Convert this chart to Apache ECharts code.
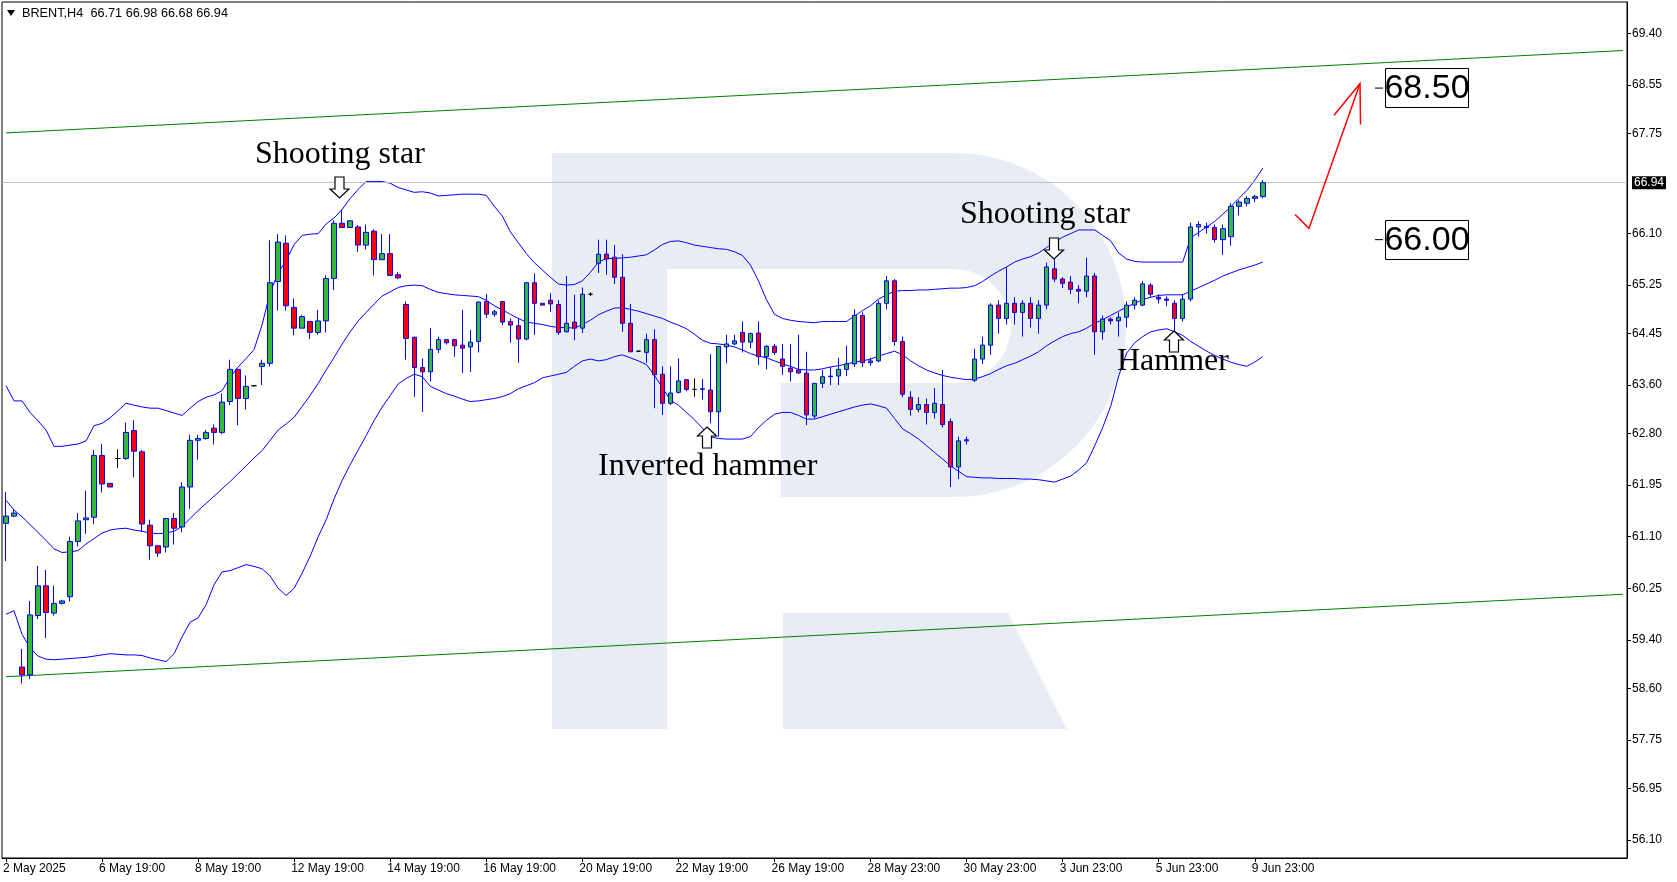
<!DOCTYPE html>
<html>
<head>
<meta charset="utf-8">
<script src="https://cdn.jsdelivr.net/npm/echarts@6/dist/echarts.min.js"></script>
<style>html,body{margin:0;padding:0;background:#fff;}#c{width:1677px;height:882px;}</style>
</head>
<body>
<div id="c"></div>
<script>
// ---------------- data ----------------
const symbolName = 'BRENT';
const timeframe = 'H4';
const xTickLabels = ['2 May 2025','6 May 19:00','8 May 19:00','12 May 19:00','14 May 19:00','16 May 19:00','20 May 19:00','22 May 19:00','26 May 19:00','28 May 23:00','30 May 23:00','3 Jun 23:00','5 Jun 23:00','9 Jun 23:00'];
const barsPerTickLabel = 12;
const emptySlotsRight = 45;

const opens = [61.32,61.44,58.95,58.82,59.80,60.29,59.84,60.00,60.11,61.02,61.38,61.42,62.44,61.98,62.39,62.39,62.85,62.50,61.29,60.95,
60.93,61.40,61.26,61.92,62.69,62.72,62.89,62.82,63.33,63.86,63.38,63.59,63.91,63.96,65.31,65.94,64.88,64.54,64.65,64.47,
64.66,65.36,66.27,66.20,66.21,65.91,66.14,65.67,65.77,65.42,64.93,64.39,63.89,63.82,64.19,64.35,64.35,64.26,64.23,64.32,
64.98,64.77,64.98,64.65,64.58,64.36,65.29,64.95,65.00,64.93,64.48,64.64,64.54,65.10,65.61,65.76,65.71,65.38,64.62,64.16,
64.14,64.35,63.78,63.30,63.48,63.69,63.53,63.53,63.52,63.16,64.23,64.28,64.47,64.31,64.46,64.07,64.24,64.03,63.88,63.85,
63.80,63.09,63.63,63.74,63.75,63.86,63.95,64.75,63.97,64.00,64.95,65.32,64.32,63.40,63.20,63.28,63.15,63.28,63.00,62.25,
62.68,63.68,64.03,64.26,64.92,64.70,64.95,64.80,64.95,64.70,64.92,65.52,65.35,65.30,65.18,65.15,65.40,64.48,64.69,64.66,
64.72,64.92,64.92,65.25,65.05,65.02,64.95,64.70,65.02,66.21,66.20,66.20,66.00,66.05,66.55,66.60,66.68,66.71];
const closes = [61.44,61.49,58.82,59.81,60.29,59.85,60.00,60.04,61.02,61.36,61.41,62.44,61.97,61.92,62.39,62.82,62.51,61.31,60.95,60.83,
61.40,61.24,61.92,62.69,62.72,62.82,62.82,63.32,63.86,63.38,63.58,63.59,63.96,65.29,65.96,64.91,64.54,64.73,64.47,64.66,
65.36,66.27,66.20,66.31,65.91,66.12,65.67,65.77,65.41,65.37,64.37,63.89,63.82,64.19,64.35,64.30,64.25,64.21,64.31,64.97,
64.77,64.81,64.64,64.59,64.36,65.29,64.95,64.92,64.94,64.47,64.62,64.54,65.10,65.10,65.76,65.68,65.38,64.62,64.15,64.16,
64.35,63.77,63.30,63.47,63.67,63.53,63.53,63.54,63.16,64.24,64.28,64.33,64.31,64.45,64.07,64.24,64.14,63.91,63.82,63.80,
63.11,63.63,63.74,63.75,63.86,63.95,64.75,63.97,64.00,64.95,65.32,64.32,63.45,63.20,63.28,63.15,63.30,62.95,62.25,62.68,
62.70,64.03,64.26,64.92,64.70,64.95,64.80,64.95,64.70,64.92,65.55,65.35,65.28,65.18,65.15,65.40,64.48,64.69,64.66,64.72,
64.92,65.00,65.27,65.10,65.02,65.00,64.70,65.02,66.21,66.25,66.22,66.00,66.18,66.55,66.62,66.68,66.71,66.94];
const lows = [60.70,61.42,58.68,58.75,59.74,59.43,59.80,59.98,60.03,60.94,61.15,61.31,61.83,61.92,62.23,62.37,62.08,61.19,60.72,60.77,
60.84,60.97,61.17,61.56,62.37,62.70,62.62,62.79,63.27,62.94,63.20,63.58,63.60,63.91,64.83,64.83,64.42,64.54,64.36,64.43,
64.47,65.17,66.19,66.20,65.80,65.84,65.41,65.66,65.41,65.35,64.02,63.41,63.16,63.66,64.13,64.27,64.07,63.80,63.82,64.14,
64.71,64.73,64.59,64.30,63.97,64.34,64.43,64.92,64.81,64.43,64.47,64.34,64.46,65.07,65.45,65.42,65.27,64.48,64.15,64.15,
63.97,63.22,63.11,63.27,63.46,63.50,63.41,63.36,62.97,62.75,63.96,64.26,64.14,64.21,63.93,63.86,64.10,63.77,63.66,63.79,
62.94,63.05,63.55,63.60,63.60,63.75,63.90,63.90,63.92,63.98,64.85,64.25,63.40,63.10,63.15,62.95,63.05,62.90,61.92,62.05,
62.62,63.65,63.95,64.10,64.45,64.60,64.60,64.40,64.55,64.45,64.85,65.30,65.20,65.10,64.95,65.05,64.10,64.35,64.60,64.40,
64.55,64.85,64.90,65.05,64.95,64.90,64.48,64.65,64.98,66.05,66.10,65.95,65.75,65.90,66.40,66.55,66.62,66.68];
const highs = [61.84,61.54,59.25,60.04,60.62,60.55,60.29,60.06,61.10,61.49,61.86,62.53,62.63,61.98,62.54,62.98,63.02,62.53,61.38,60.95,
61.41,61.49,62.00,62.78,62.78,62.86,62.95,63.46,64.02,63.87,63.76,63.60,64.02,65.99,66.09,66.07,65.03,64.76,64.65,64.84,
65.41,66.32,66.50,66.32,66.24,66.25,66.17,66.09,66.09,65.46,64.98,64.40,64.04,64.54,64.40,64.35,64.36,64.84,64.51,64.98,
65.10,64.84,64.99,64.70,64.71,65.29,65.44,64.95,65.12,65.00,65.40,65.09,65.21,65.13,66.00,66.00,65.91,65.76,64.94,64.17,
64.45,64.52,63.91,63.91,64.04,63.69,63.71,63.70,64.11,64.24,64.43,64.43,64.65,64.47,64.65,64.26,64.28,64.28,64.28,64.43,
64.15,63.63,63.85,63.90,64.05,64.25,64.85,64.80,64.05,65.00,65.40,65.35,64.40,63.50,63.40,63.38,63.55,63.85,63.05,62.75,
62.75,64.20,64.40,64.95,65.00,65.55,65.05,65.00,65.05,65.00,65.62,65.90,65.38,65.40,65.25,65.70,65.45,64.75,64.72,64.80,
64.98,65.05,65.32,65.28,65.10,65.06,65.00,65.10,66.28,66.30,66.28,66.25,66.25,66.60,66.65,66.72,66.74,66.98];

const bbUpper = [63.59,63.34,63.34,63.15,63.01,62.86,62.59,62.59,62.61,62.63,62.68,62.93,62.97,63.06,63.18,63.30,63.27,63.24,63.22,63.22,
63.18,63.14,63.10,63.22,63.33,63.40,63.44,63.51,63.73,63.90,64.04,64.19,64.60,65.13,65.45,65.66,65.92,66.07,66.09,66.10,
66.26,66.36,66.50,66.68,66.83,66.96,66.96,66.96,66.93,66.86,66.82,66.78,66.79,66.77,66.72,66.73,66.74,66.75,66.75,66.75,
66.73,66.55,66.39,66.13,65.95,65.77,65.62,65.50,65.38,65.27,65.25,65.26,65.32,65.46,65.63,65.69,65.69,65.70,65.71,65.73,
65.75,65.83,65.92,65.97,65.98,65.95,65.91,65.89,65.87,65.85,65.84,65.80,65.74,65.58,65.32,65.01,64.77,64.70,64.67,64.65,
64.64,64.63,64.65,64.65,64.65,64.65,64.74,64.83,64.91,65.02,65.09,65.15,65.16,65.16,65.17,65.17,65.18,65.19,65.20,65.20,
65.21,65.24,65.31,65.40,65.48,65.55,65.63,65.68,65.72,65.78,65.87,65.96,66.04,66.10,66.16,66.16,66.16,66.07,65.98,65.78,
65.68,65.64,65.63,65.63,65.63,65.63,65.63,65.63,66.03,66.12,66.21,66.30,66.42,66.54,66.68,66.81,66.98,67.18];
const bbMiddle = [61.70,61.54,61.43,61.30,61.17,61.04,60.90,60.84,60.85,60.87,60.98,61.07,61.16,61.21,61.23,61.24,61.21,61.19,61.16,61.15,
61.16,61.19,61.27,61.40,61.53,61.65,61.77,61.89,62.01,62.14,62.27,62.40,62.52,62.69,62.86,62.96,63.07,63.25,63.43,63.63,
63.85,64.06,64.28,64.48,64.66,64.80,64.94,65.07,65.14,65.21,65.24,65.25,65.24,65.18,65.13,65.11,65.09,65.08,65.07,65.06,
65.00,64.91,64.84,64.77,64.70,64.64,64.62,64.60,64.57,64.55,64.55,64.54,64.60,64.67,64.76,64.82,64.87,64.88,64.85,64.82,
64.78,64.74,64.70,64.64,64.59,64.53,64.44,64.34,64.29,64.28,64.26,64.23,64.18,64.12,64.08,64.05,64.00,63.95,63.91,63.86,
63.85,63.85,63.87,63.90,63.92,63.95,63.98,64.00,64.03,64.08,64.12,64.16,64.10,64.00,63.92,63.85,63.80,63.76,63.73,63.71,
63.69,63.70,63.74,63.79,63.86,63.92,63.96,64.02,64.08,64.15,64.25,64.33,64.40,64.45,64.48,64.54,64.62,64.68,64.75,64.82,
64.89,64.95,65.01,65.05,65.08,65.09,65.09,65.09,65.15,65.21,65.27,65.33,65.40,65.45,65.50,65.54,65.58,65.63];
const bbLower = [59.82,59.88,59.49,59.27,59.13,59.08,59.07,59.08,59.09,59.10,59.11,59.13,59.15,59.17,59.16,59.15,59.15,59.14,59.10,59.07,
59.04,59.17,59.45,59.69,59.76,59.98,60.31,60.52,60.54,60.59,60.64,60.61,60.57,60.45,60.25,60.13,60.25,60.50,60.78,61.10,
61.38,61.73,62.03,62.29,62.53,62.77,63.02,63.24,63.43,63.62,63.71,63.78,63.74,63.58,63.52,63.46,63.42,63.37,63.33,63.34,
63.36,63.38,63.41,63.46,63.54,63.59,63.64,63.72,63.75,63.78,63.81,63.91,64.00,64.03,64.00,64.02,64.07,64.10,64.05,64.00,
63.94,63.76,63.56,63.35,63.27,63.15,63.03,62.89,62.75,62.72,62.71,62.71,62.71,62.75,62.90,63.02,63.12,63.15,63.15,63.10,
63.04,63.04,63.08,63.12,63.16,63.20,63.24,63.27,63.29,63.26,63.22,63.05,62.88,62.80,62.71,62.60,62.49,62.38,62.27,62.18,
62.09,62.08,62.07,62.07,62.06,62.06,62.06,62.05,62.05,62.04,62.02,62.00,62.05,62.10,62.20,62.32,62.60,62.90,63.25,63.75,
64.13,64.30,64.40,64.48,64.51,64.53,64.48,64.42,64.32,64.24,64.16,64.09,64.03,63.98,63.94,63.91,63.98,64.07];

const channelUpper = [67.76, 69.12];   // trend line value at first / last slot
const channelLower = [58.79, 60.15];
const yTicks = [56.10,56.95,57.75,58.60,59.40,60.25,61.10,61.95,62.80,63.60,64.45,65.25,66.10,67.75,68.55,69.40];
const targetLevels = [68.50, 66.00];

// ---------------- chart ----------------
const SANS = '"Liberation Sans", Arial, sans-serif';
const SERIF = '"Liberation Serif", "Times New Roman", serif';
const n = opens.length;
const total = n + emptySlotsRight;
const cats = Array.from({length: total}, (_, i) => String(i));
const candleData = opens.map((o, i) => [o, closes[i], lows[i], highs[i]]);
const lastPrice = closes[n - 1];
const isLabelIdx = i => i % barsPerTickLabel === 0 && i / barsPerTickLabel < xTickLabels.length;

const chart = echarts.init(document.getElementById('c'), null, {renderer: 'canvas', width: 1677, height: 882});

function bandSeries(name, data) {
  return {name, type: 'line', data, symbol: 'none', silent: true, z: 4,
    lineStyle: {color: '#0000ff', width: 1}, animation: false};
}
function trendSeries(name, ends) {
  return {name, type: 'line', data: [[cats[0], ends[0]], [cats[total - 1], ends[1]]], symbol: 'none', silent: true, z: 3,
    lineStyle: {color: '#008000', width: 1}, animation: false};
}

chart.setOption({
  animation: false,
  backgroundColor: '#ffffff',
  grid: {left: 2, top: 2, right: 50, bottom: 24, show: true, borderColor: '#000', borderWidth: 1,
    backgroundColor: 'transparent', containLabel: false, outerBoundsMode: 'none'},
  xAxis: {
    type: 'category', data: cats, boundaryGap: true,
    axisLine: {show: true, lineStyle: {color: '#000', width: 1}},
    axisTick: {show: true, alignWithLabel: true, interval: (i) => isLabelIdx(i), length: 4, lineStyle: {color: '#000'}},
    axisLabel: {show: true, interval: (i) => isLabelIdx(i), align: 'left', color: '#000', fontSize: 12, fontFamily: SANS, margin: 5,
      padding: [0, 0, 0, -3],
      formatter: (v, i) => isLabelIdx(i) ? xTickLabels[i / barsPerTickLabel] : ''},
    splitLine: {show: false}
  },
  yAxis: {
    type: 'value', position: 'right', min: 55.80, max: 69.92, scale: true,
    axisLine: {show: true, lineStyle: {color: '#000', width: 1}},
    axisTick: {show: true, customValues: yTicks, length: 4, lineStyle: {color: '#000'}},
    axisLabel: {show: true, customValues: yTicks.concat([lastPrice]), color: '#000', fontSize: 12, fontFamily: SANS, margin: 5,
      formatter: v => Math.abs(v - lastPrice) < 1e-9 ? '{cur|' + v.toFixed(2) + '}' : v.toFixed(2),
      rich: {cur: {backgroundColor: '#000', color: '#fff', padding: [1, 2, 0, 2], fontSize: 12, fontFamily: SANS}}},
    splitLine: {show: false}
  },
  series: [
    trendSeries('channelUpper', channelUpper),
    trendSeries('channelLower', channelLower),
    bandSeries('bbUpper', bbUpper),
    bandSeries('bbMiddle', bbMiddle),
    bandSeries('bbLower', bbLower),
    {
      name: symbolName, type: 'candlestick', data: candleData, barWidth: 5, z: 5,
      itemStyle: {color: '#36B936', color0: '#FF0000', borderColor: '#0000FF', borderColor0: '#0000FF', borderColorDoji: '#000000', borderWidth: 1},
      markLine: {silent: true, symbol: ['none', 'none'], animation: false, label: {show: false},
        lineStyle: {color: '#C0C0C0', width: 1, type: 'solid'}, data: [{yAxis: lastPrice}]}
    }
  ]
});

// ---------------- decorations / annotations ----------------
function arcPts(cx, cy, r, a0, a1, steps) {
  const pts = [];
  for (let k = 0; k <= steps; k++) {
    const a = (a0 + (a1 - a0) * k / steps) * Math.PI / 180;
    pts.push([cx + r * Math.cos(a), cy + r * Math.sin(a)]);
  }
  return pts;
}
const bowl = [[667,153]].concat(arcPts(954,325,172,-90,90,40)).concat([[781,497],[781,383]])
  .concat(arcPts(954,326,57,90,-90,20)).concat([[667,269]]);
const WM = '#E8ECF4';
function downArrow(cx, yTop, yTip) {
  return [[cx-4.5,yTop],[cx+4.5,yTop],[cx+4.5,yTip-9],[cx+9.5,yTip-9],[cx,yTip],[cx-9.5,yTip-9],[cx-4.5,yTip-9]];
}
function upArrow(cx, yTip, yBot) {
  return [[cx,yTip],[cx+9.5,yTip+9],[cx+4.5,yTip+9],[cx+4.5,yBot],[cx-4.5,yBot],[cx-4.5,yTip+9],[cx-9.5,yTip+9]];
}
const arrowStyle = {fill: '#fff', stroke: '#000', lineWidth: 1.2};
function note(text, x, y) {
  return {type: 'text', x, y, z: 100, silent: true, style: {text, font: '32px ' + SERIF, fill: '#000', verticalAlign: 'middle'}};
}
const g = [
  {type: 'rect', z: 0, silent: true, shape: {x: 552, y: 153, width: 115, height: 576}, style: {fill: WM}},
  {type: 'polygon', z: 0, silent: true, shape: {points: bowl}, style: {fill: WM}},
  {type: 'polygon', z: 0, silent: true, shape: {points: [[783,613],[1008,613],[1067,729],[783,729]]}, style: {fill: WM}},
  // title
  {type: 'polygon', z: 100, silent: true, shape: {points: [[7,10],[15,10],[11,16]]}, style: {fill: '#000'}},
  {type: 'text', x: 22, y: 13, z: 100, silent: true, style: {
    text: symbolName + ',' + timeframe + '  ' + [opens[n-1], highs[n-1], lows[n-1], closes[n-1]].map(v => v.toFixed(2)).join(' '),
    font: '12.7px ' + SANS, fill: '#000', verticalAlign: 'middle'}},
  // pattern notes
  note('Shooting star', 255, 155),
  {type: 'polygon', z: 100, silent: true, shape: {points: downArrow(339.5, 177, 198)}, style: arrowStyle},
  note('Shooting star', 960, 215),
  {type: 'polygon', z: 100, silent: true, shape: {points: downArrow(1054, 238, 259)}, style: arrowStyle},
  note('Inverted hammer', 598, 467),
  {type: 'polygon', z: 100, silent: true, shape: {points: upArrow(707, 427, 448)}, style: arrowStyle},
  note('Hammer', 1117, 362),
  {type: 'polygon', z: 100, silent: true, shape: {points: upArrow(1174, 331, 352)}, style: arrowStyle},
  // forecast arrow
  {type: 'polyline', z: 100, silent: true, shape: {points: [[1295,214.5],[1309,228.4],[1360,83.6]]}, style: {stroke: '#ff0000', lineWidth: 1.5, fill: null}},
  {type: 'polyline', z: 100, silent: true, shape: {points: [[1334,115.3],[1360,83.6],[1360.5,124.4]]}, style: {stroke: '#ff0000', lineWidth: 1.5, fill: null}}
];
targetLevels.forEach(lv => {
  const y = chart.convertToPixel({yAxisIndex: 0}, lv);
  g.push({type: 'line', z: 100, silent: true, shape: {x1: 1375, y1: y, x2: 1383, y2: y}, style: {stroke: '#000', lineWidth: 1}});
  g.push({type: 'rect', z: 100, silent: true, shape: {x: 1385.5, y: Math.round(y) - 19.5, width: 83, height: 39}, style: {fill: '#fff', stroke: '#000', lineWidth: 1}});
  g.push({type: 'text', z: 101, silent: true, x: 1427, y: y + 1, style: {text: lv.toFixed(2), font: '34px ' + SANS, fill: '#000', align: 'center', verticalAlign: 'middle'}});
});
chart.setOption({graphic: g});
</script>
</body>
</html>
